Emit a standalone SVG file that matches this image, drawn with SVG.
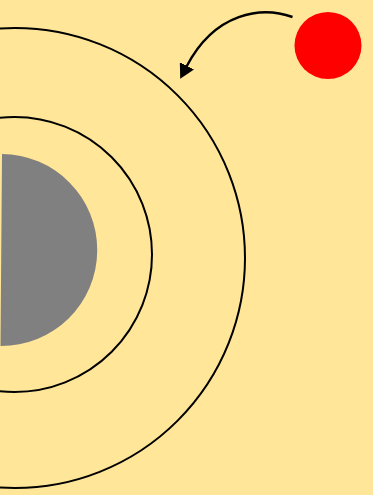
<svg xmlns="http://www.w3.org/2000/svg" width="373" height="495" viewBox="0 0 373 495">
<style>
.ring{fill:none;stroke:#000;stroke-width:2}
.conn{fill:none;stroke:#000;stroke-width:2.4}
</style>
<defs>
<marker id="ah" markerUnits="userSpaceOnUse" markerWidth="14.5" markerHeight="16" viewBox="0 0 14.5 16" refX="0.5" refY="8" orient="auto">
<path d="M0,0 L14.5,8 L0,16 z" fill="#000"/>
</marker>
</defs>
<rect x="0" y="0" width="373" height="495" fill="#FFE699"/>
<g id="outer-ring"><circle class="ring" cx="15" cy="258" r="230"/></g>
<g id="inner-ring"><circle class="ring" cx="14.5" cy="254.5" r="137.5"/></g>
<g id="core"><path d="M2,154 A96,96 0 0 1 0.5,346 Z" fill="#808080"/></g>
<g id="red-ball"><circle cx="328" cy="45.5" r="33.5" fill="#FF0000"/></g>
<g id="connectors">
<path class="conn" d="M292.5,17 C262,6 215,12 186.7,66.3" marker-end="url(#ah)"/>
</g>
</svg>
